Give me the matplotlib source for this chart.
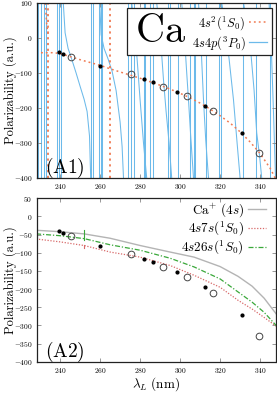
import numpy as np
import matplotlib
matplotlib.use("Agg")
import matplotlib.pyplot as plt
from matplotlib.patches import Rectangle
from matplotlib.ticker import FuncFormatter, FixedLocator

plt.rcParams['mathtext.fontset'] = 'cm'
plt.rcParams['font.family'] = 'serif'
plt.rcParams['font.serif'] = ['DejaVu Serif']

# ---------------- data ----------------
# filled dots and open circles (same in both panels)
dots_lam = [239.7, 241.7, 260.0, 282.0, 286.7, 298.7, 312.7, 330.8]
dots_val = [-40, -45, -80, -116, -126, -153, -195, -272]
circ_lam = [245.3, 275.3, 291.7, 303.3, 316.7, 339.7]
circ_val = [-55, -104, -139, -167, -210, -329]

# 4s^2 (1S0) background curve
gs_lam = [228, 232, 236, 240, 245, 250, 255, 260, 265, 270, 275, 280, 285,
          290, 295, 300, 305, 310, 315, 320, 325, 330, 335, 340, 345, 348]
gs_val = [-42, -42, -42, -44, -53, -62, -70, -78, -88, -97, -106, -115, -125,
          -135, -146, -158, -171, -186, -203, -222, -243, -268, -297, -330, -372, -405]
gs_res = [234.2, 265.0]          # narrow resonances of 4s^2
gs_branch_lam = [232.6, 233.3, 234.0]
gs_branch_val = [100, 40, 10]

# 4s4p (3P0): narrow resonances and curved branches
p_res = [229.2, 230.6, 232.0, 232.8, 238.7, 239.5, 240.5, 255.6, 256.5,
         259.6, 260.4, 261.2, 274.2, 275.5, 277.0, 281.8, 282.6, 285.2,
         286.3, 293.8, 294.8, 299.0, 305.0, 306.8, 307.5, 313.0, 319.3,
         320.5, 331.3, 338.0, 345.0]
p_branches = [
    ([228.5, 228.6], [-262, -400]),
    ([241.6, 242.5, 244.0, 245.5, 248.0, 250.0, 252.0, 253.5, 254.7, 255.3],
     [100, 15, -30, -55, -100, -138, -175, -210, -280, -400]),
    ([259.8, 260.5, 262.0, 264.0, 266.0, 268.0, 270.0, 271.0, 271.7],
     [100, 10, -30, -60, -95, -150, -240, -310, -400]),
    ([275.8, 277.0, 278.5, 280.0, 281.7, 283.3], [100, 40, -60, -177, -300, -400]),
    ([288.3, 289.5, 290.7, 291.7, 293.0, 294.5, 295.8], [100, 40, -40, -120, -210, -300, -400]),
    ([300.8, 302.0, 303.2, 304.2, 305.3, 306.7], [100, 20, -90, -177, -280, -400]),
    ([309.2, 310.3, 311.7, 312.8, 314.2], [100, 0, -177, -290, -400]),
    ([320.8, 322.5, 324.5, 326.7, 328.5, 330.0], [100, 40, -60, -177, -300, -400]),
    ([331.7, 333.5, 335.5, 337.0, 338.3, 339.8, 340.8], [100, 40, -50, -150, -271, -340, -400]),
    ([344.5, 345.8, 346.8, 347.7], [100, -60, -230, -400]),
]

# bottom panel curves
ion_lam = [228, 240, 252, 265, 280, 295, 307, 320, 329, 336, 342, 348]
ion_val = [-38, -42, -48, -60, -80, -98, -112, -138, -165, -192, -225, -268]
s7_lam = [228, 240, 252, 265, 280, 295, 307, 320, 329, 336, 342, 348]
s7_val = [-62, -70, -80, -98, -112, -135, -162, -195, -231, -255, -278, -302]
s26_lam = [228, 240, 252, 265, 280, 295, 307, 320, 329, 336, 342, 348]
s26_val = [-48, -53, -61, -78, -93, -115, -139, -172, -208, -236, -264, -300]
glitch_lam = 252.0
glitch_s26 = [-38, -66]
glitch_s7 = [-78, -86]

xticks = [240, 260, 280, 300, 320, 340]
yticks_top = [100, 0, -100, -200, -300, -400]
yticks_bot = [50, 0, -50, -100, -150, -200, -250, -300, -350, -400]

# ---------------- styling ----------------
c_or = '#f07a52'
c_bl = '#6cbaea'
c_gr = '#b4b4b4'
c_rd = '#d86a6a'
c_gn = '#3aa83a'

W, H = 277, 393
fig = plt.figure(figsize=(W / 100, H / 100), dpi=100)
ax1 = fig.add_axes([36.7 / W, 1 - 178 / H, 238.8 / W, 175 / H])
ax2 = fig.add_axes([36.7 / W, 1 - 361.7 / H, 238.8 / W, 163.4 / H])

fmt = FuncFormatter(lambda v, p: r'$%d$' % v)

def style(ax, yt, lx):
    ax.set_xlim(228.3, 347.7)
    ax.xaxis.set_major_locator(FixedLocator(xticks))
    ax.yaxis.set_major_locator(FixedLocator(yt))
    ax.xaxis.set_major_formatter(fmt)
    ax.yaxis.set_major_formatter(fmt)
    ax.tick_params(direction='in', top=True, right=True, length=3, width=0.6,
                   labelsize=5.4, pad=3, color='#888888')
    for s in ax.spines.values():
        s.set_linewidth(0.9)
        s.set_color('#222222')
    ax.set_ylabel('Polarizability (a.u.)', fontsize=9,
                  family=['cmr10', 'DejaVu Serif'])
    ax.yaxis.set_label_coords(lx, 0.5)

# ---- top panel ----
for lam in p_res:
    ax1.axvline(lam, color=c_bl, lw=0.75, zorder=1)
for bl, bv in p_branches:
    ax1.plot(bl, bv, color=c_bl, lw=0.75, zorder=1)
ax1.plot([], [], color=c_bl, lw=0.9, label=r'$4s4p(^3P_0)$')
ax1.plot(gs_lam, gs_val, color=c_or, lw=1.1, ls=(0, (1.2, 2.0)), zorder=2,
         label=r'$4s^2(^1S_0)$')
ax1.plot(gs_branch_lam, gs_branch_val, color=c_or, lw=1.1, ls=(0, (1.2, 2.0)), zorder=2)
for lam in gs_res:
    ax1.axvline(lam, color=c_or, lw=1.3, ls=(0, (1.2, 2.0)), zorder=2)
ax1.plot(dots_lam, dots_val, 'o', color='k', ms=2.0, zorder=4)
ax1.plot(circ_lam, circ_val, 'o', mfc='none', mec='#444444', mew=0.7, ms=4.8, zorder=4)
ax1.set_ylim(-400, 100)
style(ax1, yticks_top, -0.082)
ax1.text(0.035, 0.03, r'$\mathrm{(A1)}$', transform=ax1.transAxes, fontsize=14)
ax1.add_patch(Rectangle((0.380, 0.703), 0.607, 0.267, transform=ax1.transAxes,
                        facecolor='white', edgecolor='#222222', lw=0.9, zorder=5))
ax1.text(0.52, 0.835, r'$\mathrm{Ca}$', transform=ax1.transAxes, fontsize=29,
         ha='center', va='center', zorder=6)
h, l = ax1.get_legend_handles_labels()
leg1 = ax1.legend(h[::-1], l[::-1], loc='upper right', bbox_to_anchor=(0.995, 0.98),
                  frameon=False, markerfirst=False, fontsize=9, handlelength=1.4,
                  handletextpad=0.3, labelspacing=0.2, borderaxespad=0.2)
leg1.set_zorder(7)

# ---- bottom panel ----
ax2.plot(ion_lam, ion_val, color=c_gr, lw=1.0, label=r'$\mathrm{Ca}^{+}\ (4s)$')
ax2.plot(s7_lam, s7_val, color=c_rd, lw=0.9, ls=(0, (1, 1.3)), label=r'$4s7s(^1S_0)$')
ax2.plot(s26_lam, s26_val, color=c_gn, lw=0.9, ls=(0, (4, 1.5, 1, 1.5)),
         label=r'$4s26s(^1S_0)$')
ax2.plot([glitch_lam, glitch_lam], glitch_s26, color=c_gn, lw=0.8)
ax2.plot([glitch_lam, glitch_lam], glitch_s7, color=c_rd, lw=0.8)
ax2.plot(dots_lam, dots_val, 'o', color='k', ms=2.0, zorder=4)
ax2.plot(circ_lam, circ_val, 'o', mfc='none', mec='#444444', mew=0.7, ms=4.8, zorder=4)
ax2.set_ylim(-400, 50)
style(ax2, yticks_bot, -0.084)
ax2.set_xlabel(r'$\lambda_L\ \mathrm{(nm)}$', fontsize=9.5)
ax2.xaxis.set_label_coords(0.5, -0.08)
ax2.text(0.035, 0.03, r'$\mathrm{(A2)}$', transform=ax2.transAxes, fontsize=14)
ax2.legend(loc='upper right', bbox_to_anchor=(0.995, 1.03), frameon=False,
           markerfirst=False, fontsize=9.5, handlelength=1.4, handletextpad=0.3,
           labelspacing=0.05, borderaxespad=0.2)

fig.savefig('out.png', dpi=100)
